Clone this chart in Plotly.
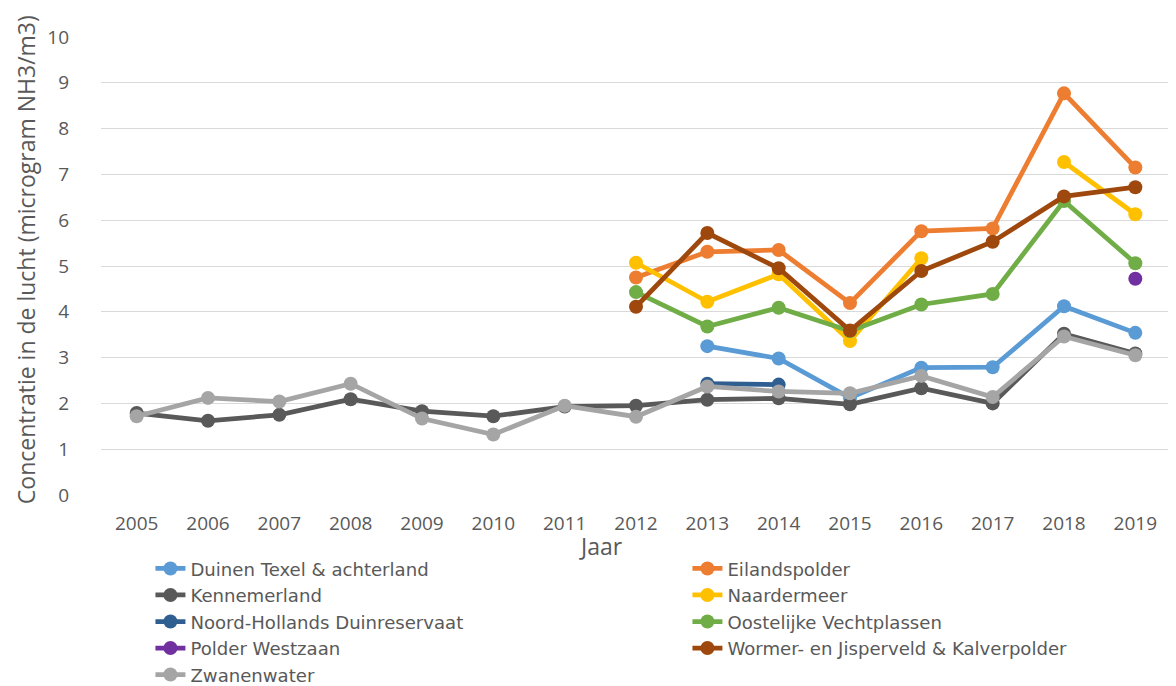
import plotly.graph_objects as go

years = list(range(2005, 2020))
N = None

duinen_texel = [N, N, N, N, N, N, N, N, 3.25, 2.98, 2.12, 2.78, 2.79, 4.12, 3.54]
eilandspolder = [N, N, N, N, N, N, N, 4.75, 5.31, 5.35, 4.19, 5.76, 5.82, 8.77, 7.15]
kennemerland = [1.79, 1.62, 1.75, 2.09, 1.83, 1.72, 1.93, 1.95, 2.08, 2.11, 1.98, 2.33, 2.00, 3.52, 3.09]
naardermeer = [N, N, N, N, N, N, N, 5.07, 4.22, 4.82, 3.36, 5.17, N, 7.27, 6.13]
nh_duinreservaat = [N, N, N, N, N, N, N, N, 2.43, 2.41, N, N, N, N, N]
oostelijke_vecht = [N, N, N, N, N, N, N, 4.43, 3.68, 4.09, 3.58, 4.16, 4.39, 6.42, 5.06]
polder_westzaan = [N, N, N, N, N, N, N, N, N, N, N, N, N, N, 4.72]
wormer_jisperveld = [N, N, N, N, N, N, N, 4.11, 5.72, 4.95, 3.59, 4.89, 5.53, 6.52, 6.72]
zwanenwater = [1.72, 2.12, 2.04, 2.43, 1.67, 1.32, 1.95, 1.71, 2.37, 2.26, 2.22, 2.60, 2.14, 3.46, 3.05]

series = [
    ("Duinen Texel & achterland", duinen_texel, "#5B9BD5"),
    ("Eilandspolder", eilandspolder, "#ED7D31"),
    ("Kennemerland", kennemerland, "#595959"),
    ("Naardermeer", naardermeer, "#FFC000"),
    ("Noord-Hollands Duinreservaat", nh_duinreservaat, "#2F5E91"),
    ("Oostelijke Vechtplassen", oostelijke_vecht, "#70AD47"),
    ("Polder Westzaan", polder_westzaan, "#7030A0"),
    ("Wormer- en Jisperveld & Kalverpolder", wormer_jisperveld, "#9E480E"),
    ("Zwanenwater", zwanenwater, "#A5A5A5"),
]

FONT = "Open Sans"
TXT = "#595959"

fig = go.Figure()
for name, vals, col in series:
    fig.add_trace(go.Scatter(
        x=years, y=vals, name=name, mode="lines+markers",
        line=dict(color=col, width=4.75),
        marker=dict(color=col, size=14),
        connectgaps=False,
    ))

fig.update_layout(
    width=1168, height=678,
    margin=dict(l=93, r=5, t=29, b=191, autoexpand=False),
    plot_bgcolor="white", paper_bgcolor="white",
    font=dict(family=FONT, size=19, color=TXT),
    xaxis=dict(range=[2004.5, 2019.5], tickvals=years, ticktext=[str(y) for y in years],
               showgrid=False, zeroline=False, showline=False, ticks="",
               ticklabelstandoff=15, tickfont=dict(size=19, color=TXT)),
    yaxis=dict(range=[0, 10], dtick=1, showgrid=True, gridcolor="#D9D9D9", gridwidth=1.3,
               zeroline=False, showline=False, ticks="", ticklabelstandoff=31,
               tickfont=dict(size=19, color=TXT), automargin=False),
    legend=dict(orientation="h", x=0.0462, y=-0.1205, xanchor="left", yanchor="top",
                entrywidth=492, entrywidthmode="pixels",
                font=dict(family="DejaVu Sans", size=18.1, color=TXT),
                bgcolor="rgba(0,0,0,0)", tracegroupgap=0),
    showlegend=True,
    annotations=[
        dict(text="Jaar", xref="paper", yref="paper", x=0.467, y=-0.111,
             xanchor="center", yanchor="middle", showarrow=False,
             font=dict(size=23, color=TXT)),
        dict(text="Concentratie in de lucht (microgram NH3/m3)", xref="paper", yref="paper",
             x=-0.070, y=0.513, xanchor="center", yanchor="middle", textangle=-90,
             showarrow=False, font=dict(size=23, color=TXT)),
    ],
)

fig.write_html("out.html")
